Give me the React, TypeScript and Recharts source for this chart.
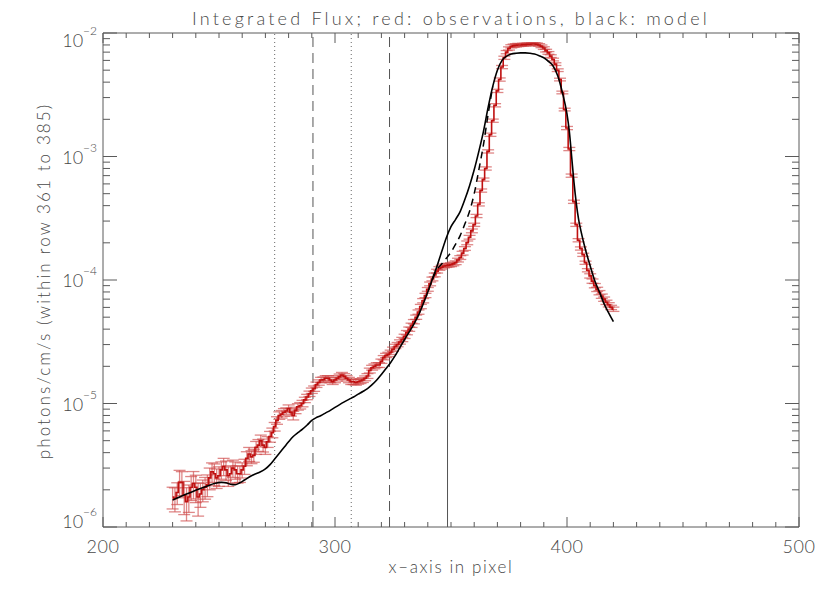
import React from "react";
import {
  ComposedChart,
  Line,
  XAxis,
  YAxis,
  ErrorBar,
  ReferenceLine,
} from "recharts";

// observations: one value per pixel column, starting at x = 230
const obsStart = 230;
const obsFlux = [
  1.75e-6, 1.7e-6, 1.9e-6, 2.3e-6, 2.3e-6, 1.8e-6, 1.6e-6, 1.75e-6, 2.1e-6, 2.25e-6,
  2.1e-6, 1.75e-6, 1.85e-6, 2.0e-6, 2.1e-6, 2.2e-6, 2.5e-6, 2.8e-6, 2.7e-6, 2.5e-6,
  2.6e-6, 2.9e-6, 3.1e-6, 2.9e-6, 2.6e-6, 2.7e-6, 3.0e-6, 2.9e-6, 2.7e-6, 2.7e-6,
  2.9e-6, 3.1e-6, 3.6e-6, 3.9e-6, 3.7e-6, 3.8e-6, 4.4e-6, 4.6e-6, 5.0e-6, 4.6e-6,
  4.4e-6, 4.9e-6, 5.4e-6, 5.8e-6, 6.5e-6, 7.3e-6, 8.0e-6, 8.2e-6, 8.5e-6, 8.7e-6,
  9.1e-6, 8.5e-6, 8.0e-6, 8.8e-6, 9.4e-6, 9.6e-6, 1.0e-5, 1.07e-5, 1.13e-5, 1.2e-5,
  1.27e-5, 1.32e-5, 1.42e-5, 1.48e-5, 1.55e-5, 1.56e-5, 1.6e-5, 1.6e-5, 1.55e-5, 1.5e-5,
  1.55e-5, 1.6e-5, 1.65e-5, 1.7e-5, 1.66e-5, 1.6e-5, 1.55e-5, 1.5e-5, 1.5e-5, 1.48e-5,
  1.5e-5, 1.52e-5, 1.55e-5, 1.6e-5, 1.67e-5, 1.85e-5, 1.95e-5, 2.0e-5, 2.05e-5, 2.05e-5,
  2.2e-5, 2.35e-5, 2.45e-5, 2.5e-5, 2.6e-5, 2.75e-5, 2.9e-5, 3.0e-5, 3.15e-5, 3.3e-5,
  3.5e-5, 3.75e-5, 4.0e-5, 4.3e-5, 4.6e-5, 5.0e-5, 5.5e-5, 6.1e-5, 6.8e-5, 7.5e-5,
  8.4e-5, 9.3e-5, 1.02e-4, 1.1e-4, 1.18e-4, 1.24e-4, 1.27e-4, 1.3e-4, 1.31e-4, 1.32e-4,
  1.33e-4, 1.35e-4, 1.38e-4, 1.45e-4, 1.52e-4, 1.65e-4, 1.8e-4, 2.0e-4, 2.22e-4, 2.5e-4,
  2.8e-4, 3.3e-4, 4.1e-4, 5.3e-4, 6.5e-4, 8.0e-4, 1.1e-3, 1.5e-3, 1.95e-3, 2.6e-3,
  3.4e-3, 4.2e-3, 5.3e-3, 6.3e-3, 7.0e-3, 7.5e-3, 7.8e-3, 7.9e-3, 7.95e-3, 8.0e-3,
  8.0e-3, 8.05e-3, 8.05e-3, 8.1e-3, 8.1e-3, 8.15e-3, 8.15e-3, 8.1e-3, 8.0e-3, 7.8e-3,
  7.55e-3, 7.2e-3, 6.9e-3, 6.5e-3, 6.1e-3, 5.6e-3, 5.0e-3, 4.2e-3, 3.3e-3, 2.4e-3,
  1.7e-3, 1.15e-3, 7.0e-4, 4.3e-4, 2.8e-4, 2.1e-4, 1.8e-4, 1.6e-4, 1.38e-4, 1.2e-4,
  1.08e-4, 9.8e-5, 9.0e-5, 8.4e-5, 7.9e-5, 7.4e-5, 7.0e-5, 6.6e-5, 6.3e-5, 6.0e-5,
  5.8e-5,
];

// relative 1-sigma errors of the observations
const obsRelErr = [
  0.2, 0.22, 0.2, 0.25, 0.22, 0.3, 0.3, 0.25, 0.22, 0.25,
  0.25, 0.3, 0.22, 0.2, 0.2, 0.2, 0.2, 0.18, 0.2, 0.18,
  0.18, 0.16, 0.16, 0.18, 0.18, 0.16, 0.16, 0.16, 0.16, 0.15,
  0.14, 0.14, 0.13, 0.13, 0.12, 0.12, 0.12, 0.11, 0.11, 0.12,
  0.12, 0.1, 0.1, 0.09, 0.08, 0.07, 0.07, 0.07, 0.07, 0.06,
  0.07, 0.07, 0.08, 0.06, 0.06, 0.06, 0.06, 0.05, 0.05, 0.05,
  0.05, 0.05, 0.05, 0.05, 0.05, 0.05, 0.05, 0.05, 0.05, 0.05,
  0.05, 0.05, 0.05, 0.05, 0.05, 0.05, 0.05, 0.05, 0.05, 0.05,
  0.045, 0.045, 0.045, 0.045, 0.045, 0.045, 0.045, 0.045, 0.045, 0.045,
  0.04, 0.04, 0.04, 0.04, 0.04, 0.04, 0.04, 0.04, 0.04, 0.04,
  0.04, 0.04, 0.04, 0.04, 0.04, 0.04, 0.04, 0.04, 0.04, 0.04,
  0.035, 0.035, 0.035, 0.035, 0.035, 0.035, 0.035, 0.035, 0.035, 0.035,
  0.035, 0.035, 0.035, 0.035, 0.035, 0.035, 0.035, 0.035, 0.035, 0.035,
  0.03, 0.03, 0.03, 0.03, 0.03, 0.03, 0.03, 0.03, 0.03, 0.03,
  0.03, 0.03, 0.03, 0.03, 0.03, 0.03, 0.03, 0.03, 0.03, 0.03,
  0.025, 0.025, 0.025, 0.025, 0.025, 0.025, 0.025, 0.025, 0.025, 0.025,
  0.025, 0.025, 0.025, 0.025, 0.025, 0.025, 0.025, 0.025, 0.025, 0.025,
  0.03, 0.03, 0.03, 0.03, 0.03, 0.03, 0.03, 0.03, 0.03, 0.03,
  0.04, 0.04, 0.04, 0.04, 0.04, 0.04, 0.04, 0.04, 0.04, 0.04,
  0.04,
];

// model (solid)
const modelX = [
  230, 233, 236, 239, 242, 245, 248, 251, 253, 255, 257, 259, 261, 264, 267, 270,
  272, 274, 276, 278, 280, 282, 284, 286, 288, 290, 292, 294, 296, 298, 300, 302,
  304, 306, 308, 310, 312, 314, 316, 318, 320, 322, 324, 326, 328, 330, 332, 334,
  336, 338, 340, 342, 344, 346, 348, 350, 352, 354, 356, 358, 360, 362, 364, 366,
  368, 370, 372, 374, 376, 378, 380, 382, 384, 386, 388, 390, 392, 394, 396, 398,
  400, 401, 402, 403, 404, 405, 406, 408, 410, 412, 414, 416, 418, 420,
];
const modelFlux = [
  1.65e-6, 1.75e-6, 1.85e-6, 1.95e-6, 2.05e-6, 2.15e-6, 2.25e-6, 2.3e-6, 2.28e-6, 2.22e-6,
  2.2e-6, 2.28e-6, 2.4e-6, 2.6e-6, 2.75e-6, 2.95e-6,
  3.2e-6, 3.55e-6, 3.95e-6, 4.4e-6, 4.9e-6, 5.4e-6, 5.8e-6, 6.2e-6, 6.7e-6, 7.3e-6,
  7.7e-6, 8.0e-6, 8.4e-6, 8.8e-6, 9.3e-6, 9.8e-6,
  1.03e-5, 1.08e-5, 1.13e-5, 1.19e-5, 1.25e-5, 1.32e-5, 1.42e-5, 1.55e-5, 1.72e-5, 1.92e-5,
  2.15e-5, 2.45e-5, 2.85e-5, 3.3e-5, 3.8e-5, 4.4e-5,
  5.2e-5, 6.4e-5, 8.0e-5, 1.02e-4, 1.3e-4, 1.7e-4, 2.2e-4, 2.7e-4, 3.1e-4, 3.6e-4,
  4.5e-4, 5.8e-4, 7.8e-4, 1.1e-3, 1.6e-3, 2.5e-3,
  3.7e-3, 5.0e-3, 6.0e-3, 6.5e-3, 6.75e-3, 6.85e-3, 6.9e-3, 6.9e-3, 6.85e-3, 6.75e-3,
  6.55e-3, 6.3e-3, 5.9e-3, 5.4e-3, 4.5e-3, 3.3e-3,
  2.2e-3, 1.6e-3, 1.0e-3, 6.2e-4, 4.2e-4, 3.1e-4, 2.5e-4, 1.75e-4, 1.3e-4, 9.8e-5,
  8.0e-5, 6.4e-5, 5.4e-5, 4.6e-5,
];

// second model (dashed), only where it departs from the first
const altX = [342, 344, 346, 348, 350, 352, 354, 356, 358, 360, 362, 364, 366, 368];
const altFlux = [
  1.02e-4, 1.22e-4, 1.35e-4, 1.5e-4, 1.68e-4, 1.95e-4, 2.3e-4, 2.85e-4, 3.6e-4, 5.0e-4,
  7.8e-4, 1.25e-3, 2.2e-3, 3.7e-3,
];

// vertical markers
const dottedMarks = [274, 307];
const dashedMarks = [290.5, 323.5];
const solidMarks = [348.5];

const xDomain = [200, 500];
const xLabels = [200, 300, 400, 500];
const yDomain = [1e-6, 1e-2];

const xTicks: number[] = [];
for (let v = xDomain[0]; v <= xDomain[1]; v += 10) xTicks.push(v);
const yTicks: number[] = [];
for (let e = -6; e < -2; e++) for (let m = 1; m < 10; m++) yTicks.push(m * Math.pow(10, e));
yTicks.push(1e-2);

const obsData = obsFlux.map((v, i) => ({
  x: obsStart + i,
  y: v,
  err: v * obsRelErr[i],
}));
const modelData = modelX.map((x, i) => ({ x, y: modelFlux[i] }));
const altData = altX.map((x, i) => ({ x, y: altFlux[i] }));

const AXIS = "#5a5a5a";
const TEXT = "#484848";
const FONT = "Lato, 'DejaVu Sans', sans-serif";

const isDecade = (v: number) => {
  const l = Math.log10(v);
  return Math.abs(l - Math.round(l)) < 1e-6;
};

const BottomTick = ({ x, y, payload }: any) => {
  const major = xLabels.includes(payload.value);
  return (
    <g>
      <line x1={x} x2={x} y1={y} y2={y - (major ? 10 : 5)} stroke={AXIS} />
      {major && (
        <text x={x} y={y + 26} textAnchor="middle" fill={TEXT} fontSize={18} fontFamily={FONT} fontWeight={300} letterSpacing={0.5}>
          {payload.value}
        </text>
      )}
    </g>
  );
};

const TopTick = ({ x, y, payload }: any) => {
  const major = xLabels.includes(payload.value);
  return <line x1={x} x2={x} y1={y} y2={y + (major ? 10 : 5)} stroke={AXIS} />;
};

const LeftTick = ({ x, y, payload }: any) => {
  const v = payload.value;
  const major = isDecade(v);
  const exp = Math.round(Math.log10(v));
  // labels at the ends of the axis are pulled inward, as IDL does
  const dy = v >= yDomain[1] ? 14 : v <= yDomain[0] ? 1 : 7;
  return (
    <g>
      <line x1={x} x2={x + (major ? 14 : 7)} y1={y} y2={y} stroke={AXIS} />
      {major && (
        <text x={x - 6} y={y + dy} textAnchor="end" fill={TEXT} fontSize={18} fontFamily={FONT} fontWeight={300}>
          <tspan>10</tspan>
          <tspan dy={-12} fontSize={12}>{"\u2212" + Math.abs(exp)}</tspan>
        </text>
      )}
    </g>
  );
};

const RightTick = ({ x, y, payload }: any) => {
  const major = isDecade(payload.value);
  return <line x1={x} x2={x - (major ? 14 : 7)} y1={y} y2={y} stroke={AXIS} />;
};

export default function App() {
  const W = 830;
  const H = 593;
  return (
    <div style={{ position: "absolute", left: 0, top: 0, width: W, height: H, background: "#fff" }}>
      <ComposedChart
        width={W}
        height={H}
        margin={{ top: 13, right: 11, bottom: 26, left: 43 }}
      >
        <XAxis
          xAxisId="b"
          dataKey="x"
          type="number"
          domain={xDomain}
          allowDataOverflow
          ticks={xTicks}
          interval={0}
          height={40}
          tickSize={0}
          tickMargin={0}
          tick={<BottomTick />}
          stroke={AXIS}
        />
        <XAxis
          xAxisId="t"
          orientation="top"
          dataKey="x"
          type="number"
          domain={xDomain}
          allowDataOverflow
          ticks={xTicks}
          interval={0}
          height={20}
          tickSize={0}
          tickMargin={0}
          tick={<TopTick />}
          stroke={AXIS}
        />
        <YAxis
          yAxisId="l"
          type="number"
          scale="log"
          domain={yDomain}
          allowDataOverflow
          ticks={yTicks}
          interval={0}
          width={60}
          tickSize={0}
          tickMargin={0}
          tick={<LeftTick />}
          stroke={AXIS}
        />
        <YAxis
          yAxisId="r"
          orientation="right"
          type="number"
          scale="log"
          domain={yDomain}
          allowDataOverflow
          ticks={yTicks}
          interval={0}
          width={20}
          tickSize={0}
          tickMargin={0}
          tick={<RightTick />}
          stroke={AXIS}
        />

        {dottedMarks.map((m) => (
          <ReferenceLine key={"d" + m} x={m} xAxisId="b" yAxisId="l" stroke="#666" strokeDasharray="1 3" />
        ))}
        {dashedMarks.map((m) => (
          <ReferenceLine key={"s" + m} x={m} xAxisId="b" yAxisId="l" stroke="#555" strokeDasharray="10 6" />
        ))}
        {solidMarks.map((m) => (
          <ReferenceLine key={"l" + m} x={m} xAxisId="b" yAxisId="l" stroke="#555" />
        ))}

        <Line
          data={obsData}
          xAxisId="b"
          yAxisId="l"
          dataKey="y"
          type="step"
          stroke="#bf1010"
          strokeWidth={1.6}
          dot={false}
          isAnimationActive={false}
        >
          <ErrorBar dataKey="err" width={6} stroke="rgba(206,70,70,0.65)" strokeWidth={1.3} />
        </Line>
        <Line
          data={altData}
          xAxisId="b"
          yAxisId="l"
          dataKey="y"
          type="monotone"
          stroke="#000"
          strokeWidth={1.5}
          strokeDasharray="7 5"
          dot={false}
          isAnimationActive={false}
        />
        <Line
          data={modelData}
          xAxisId="b"
          yAxisId="l"
          dataKey="y"
          type="monotone"
          stroke="#000"
          strokeWidth={1.6}
          dot={false}
          isAnimationActive={false}
        />
      </ComposedChart>

      <svg width={W} height={H} style={{ position: "absolute", left: 0, top: 0, pointerEvents: "none" }}>
        <text x={451} y={25} textAnchor="middle" fill={TEXT} fontSize={18} fontFamily={FONT} fontWeight={300} letterSpacing={3.2}>
          Integrated Flux; red: observations, black: model
        </text>
        <text x={451} y={573} textAnchor="middle" fill={TEXT} fontSize={17} fontFamily={FONT} fontWeight={300} letterSpacing={1.6}>
          x–axis in pixel
        </text>
        <text
          transform="translate(50 281) rotate(-90)"
          textAnchor="middle"
          fill={TEXT}
          fontSize={17}
          fontFamily={FONT}
          fontWeight={300}
          letterSpacing={2.1}
        >
          photons/cm/s (within row 361 to 385)
        </text>
      </svg>
    </div>
  );
}
